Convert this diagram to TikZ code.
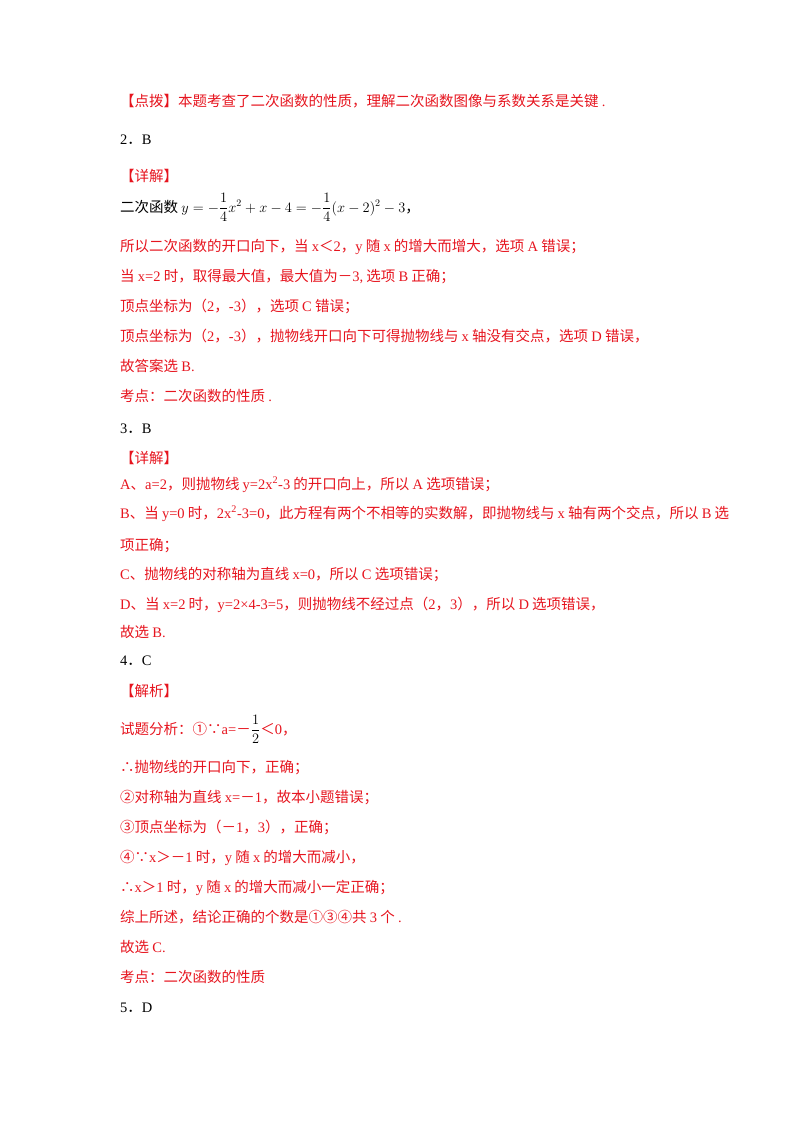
\documentclass[tikz,border=0pt]{standalone}
\usepackage{fontspec}
\setmainfont{Liberation Serif}
\newfontfamily\cjk{Noto Sans CJK SC}
\newXeTeXintercharclass\cjkclass
\newXeTeXintercharclass\cjkpclass
\count255="4E00
\loop\XeTeXcharclass\count255=\cjkclass\advance\count255 by 1\ifnum\count255<"A000\repeat
\count255="3000
\loop\XeTeXcharclass\count255=\cjkpclass\advance\count255 by 1\ifnum\count255<"3040\repeat
\count255="FF00
\loop\XeTeXcharclass\count255=\cjkpclass\advance\count255 by 1\ifnum\count255<"FF20\repeat
\count255="2460
\loop\XeTeXcharclass\count255=\cjkpclass\advance\count255 by 1\ifnum\count255<"2474\repeat
\XeTeXcharclass"2234=\cjkpclass
\XeTeXcharclass"2235=\cjkpclass
\XeTeXinterchartoks 0 \cjkclass={\hskip.22em\cjk}
\XeTeXinterchartoks 4095 \cjkclass={\cjk}
\XeTeXinterchartoks \cjkclass 0={\rmfamily\hskip.22em}
\XeTeXinterchartoks 0 \cjkpclass={\cjk}
\XeTeXinterchartoks 4095 \cjkpclass={\cjk}
\XeTeXinterchartoks \cjkpclass 0={\rmfamily}
\XeTeXinterchartokenstate=1
\definecolor{rd}{RGB}{230,20,30}
\begin{document}
\begin{tikzpicture}[x=1pt,y=-1pt,
  t/.style={anchor=base west,inner sep=0pt,font=\fontsize{14.5}{17}\selectfont},
  r/.style={t,text=rd}]
\useasboundingbox (0,0) rectangle (800,1132);
\node[r] (a1) at (120,106) {【点拨】本题考查了二次函数的性质，理解二次函数图像与系数关系是关键.};
\node[t] (a2) at (120,144) {2．B};
\node[r] (a3) at (120,181) {【详解】};
\node[t] (a4) at (120,212) {二次函数 $\displaystyle y=-\frac{1}{4}x^2+x-4=-\frac{1}{4}(x-2)^2-3$，};
\node[r] (a5) at (120,251) {所以二次函数的开口向下，当x＜2，y随x的增大而增大，选项A错误；};
\node[r] (a6) at (120,281) {当x=2时，取得最大值，最大值为－3,选项B正确；};
\node[r] (a7) at (120,311) {顶点坐标为（2，-3），选项C错误；};
\node[r] (a8) at (120,341) {顶点坐标为（2，-3），抛物线开口向下可得抛物线与x轴没有交点，选项D错误，};
\node[r] (a9) at (120,371) {故答案选B.};
\node[r] (a10) at (120,401) {考点：二次函数的性质.};
\node[t] (a11) at (120,433) {3．B};
\node[r] (a12) at (120,463) {【详解】};
\node[r] (a13) at (120,489) {A、a=2，则抛物线y=2x\textsuperscript{2}-3的开口向上，所以A选项错误；};
\node[r] (a14) at (120,518) {B、当y=0时，2x\textsuperscript{2}-3=0，此方程有两个不相等的实数解，即抛物线与x轴有两个交点，所以B选};
\node[r] (a15) at (120,550) {项正确；};
\node[r] (a16) at (120,579) {C、抛物线的对称轴为直线x=0，所以C选项错误；};
\node[r] (a17) at (120,609) {D、当x=2时，y=2×4-3=5，则抛物线不经过点（2，3），所以D选项错误，};
\node[r] (a18) at (120,637) {故选B.};
\node[t] (a19) at (120,665) {4．C};
\node[r] (a20) at (120,696) {【解析】};
\node[r] (a21) at (120,734) {试题分析：①∵a=－\textcolor{black}{$\displaystyle\frac{1}{2}$}＜0，};
\node[r] (a22) at (120,772) {∴抛物线的开口向下，正确；};
\node[r] (a23) at (120,802) {②对称轴为直线x=－1，故本小题错误；};
\node[r] (a24) at (120,832) {③顶点坐标为（－1，3），正确；};
\node[r] (a25) at (120,862) {④∵x＞－1时，y随x的增大而减小，};
\node[r] (a26) at (120,892) {∴x＞1时，y随x的增大而减小一定正确；};
\node[r] (a27) at (120,922) {综上所述，结论正确的个数是①③④共3个.};
\node[r] (a28) at (120,952) {故选C.};
\node[r] (a29) at (120,982) {考点：二次函数的性质};
\node[t] (a30) at (120,1012) {5．D};
\end{tikzpicture}
\end{document}
